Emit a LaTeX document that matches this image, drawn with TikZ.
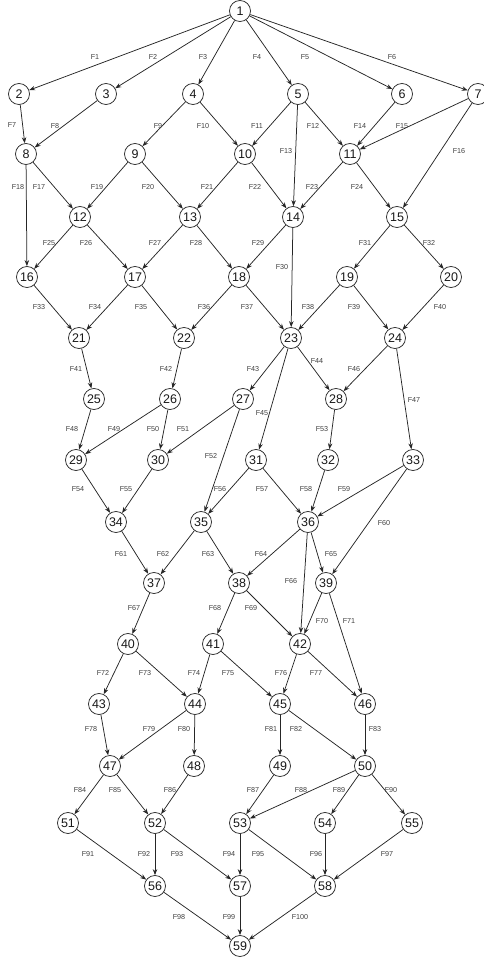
\documentclass[tikz,border=0pt]{standalone}
\usepackage{fontspec}
\setmainfont{Liberation Sans}
\usetikzlibrary{arrows.meta}
\begin{document}
\begin{tikzpicture}[x=1pt,y=-1pt,
  nd/.style={circle,draw=black!85,line width=0.75pt,minimum size=21pt,inner sep=0pt,font=\fontsize{12.5}{12.5}\selectfont,text=black!90},
  lb/.style={font=\fontsize{7.2}{7.2}\selectfont,text=black!75,inner sep=0pt},
  ar/.style={draw=black!85,line width=0.75pt,-{Stealth[length=6pt,width=4.5pt]}}]
\useasboundingbox (0,0) rectangle (483,957);
\foreach \n/\x/\y in {1/240/11,2/19/94,3/106/94,4/193/94,5/298/94,6/402/94,7/478/94,
  8/26/154,9/135/154,10/245/154,11/350/154,
  12/80/217,13/190/217,14/293/217,15/397/217,
  16/27/277,17/135/277,18/239/277,19/347/277,20/451/277,
  21/79/338,22/184/338,23/291/338,24/395/338,
  25/94/399,26/170/399,27/243/399,28/336/399,
  29/76/460,30/158/460,31/256/460,32/328/460,33/413/460,
  34/116/522,35/201/522,36/308/522,
  37/154/583,38/239/583,39/326/583,
  40/128/644,41/213/644,42/300/644,
  43/99/704,44/195/704,45/280/704,46/365/704,
  47/110/766,48/194/766,49/280/766,50/365/766,
  51/68/823,52/155/823,53/240/823,54/325/823,55/412/823,
  56/155/886,57/240/886,58/325/886,59/240/946}
  \node[nd] (\n) at (\x,\y) {\n};
\foreach \a/\b/\l/\x/\y in {1/2/1/95/57,1/3/2/153/57,1/4/3/203/57,1/5/4/257/57,1/6/5/305/57,1/7/6/392/57,
  2/8/7/12/125,3/8/8/55/126,4/9/9/158/126,4/10/10/203/126,5/10/11/257/126,5/11/12/313/126,
  5/14/13/286/151,6/11/14/360/126,7/11/15/402/126,7/15/16/459/151,
  8/12/17/39/187,8/16/18/18/187,9/12/19/97/187,9/13/20/148/187,10/13/21/207/187,10/14/22/255/187,
  11/14/23/312/187,11/15/24/357/187,
  12/16/25/49/243,12/17/26/86/243,13/17/27/155/243,13/18/28/196/243,14/18/29/258/243,
  14/23/30/282/267,15/19/31/365/243,15/20/32/429/243,
  16/21/33/39/307,17/21/34/95/307,17/22/35/141/307,18/22/36/204/307,18/23/37/247/307,
  19/23/38/308/307,19/24/39/354/307,20/24/40/440/307,
  21/25/41/76/369,22/26/42/166/369,23/27/43/253/369,23/28/44/317/361,23/31/45/262/413,
  24/28/46/354/369,24/33/47/414/400,
  25/29/48/72/429,26/29/49/114/429,26/30/50/153/429,27/30/51/183/429,27/35/52/211/456,
  28/32/53/322/429,
  29/34/54/78/489,30/34/55/126/489,31/35/56/220/489,31/36/57/262/489,32/36/58/306/489,
  33/36/59/344/489,33/39/60/384/523,
  34/37/61/121/554,35/37/62/163/554,35/38/63/208/554,36/38/64/261/554,36/39/65/331/554,
  36/42/66/291/581,
  37/40/67/134/608,38/41/68/215/608,38/42/69/251/608,39/42/70/322/621,39/46/71/349/621,
  40/43/72/103/673,40/44/73/145/673,41/44/74/194/673,41/45/75/228/673,42/45/76/281/673,
  42/46/77/316/673,
  43/47/78/91/729,44/47/79/149/729,44/48/80/184/729,45/49/81/271/729,45/50/82/296/729,
  46/50/83/375/729,
  47/51/84/80/790,47/52/85/115/790,48/52/86/170/790,49/53/87/253/790,50/53/88/301/790,
  50/54/89/339/790,50/55/90/391/790,
  51/56/91/88/854,52/56/92/144/854,52/57/93/177/854,53/57/94/229/854,53/58/95/258/854,
  54/58/96/316/854,55/58/97/387/854,
  56/59/98/179/917,57/59/99/229/917,58/59/100/300/917}
  {\draw[ar] (\a) -- (\b);
   \node[lb] (F\l) at (\x,\y) {F\l};}
\end{tikzpicture}
\end{document}
